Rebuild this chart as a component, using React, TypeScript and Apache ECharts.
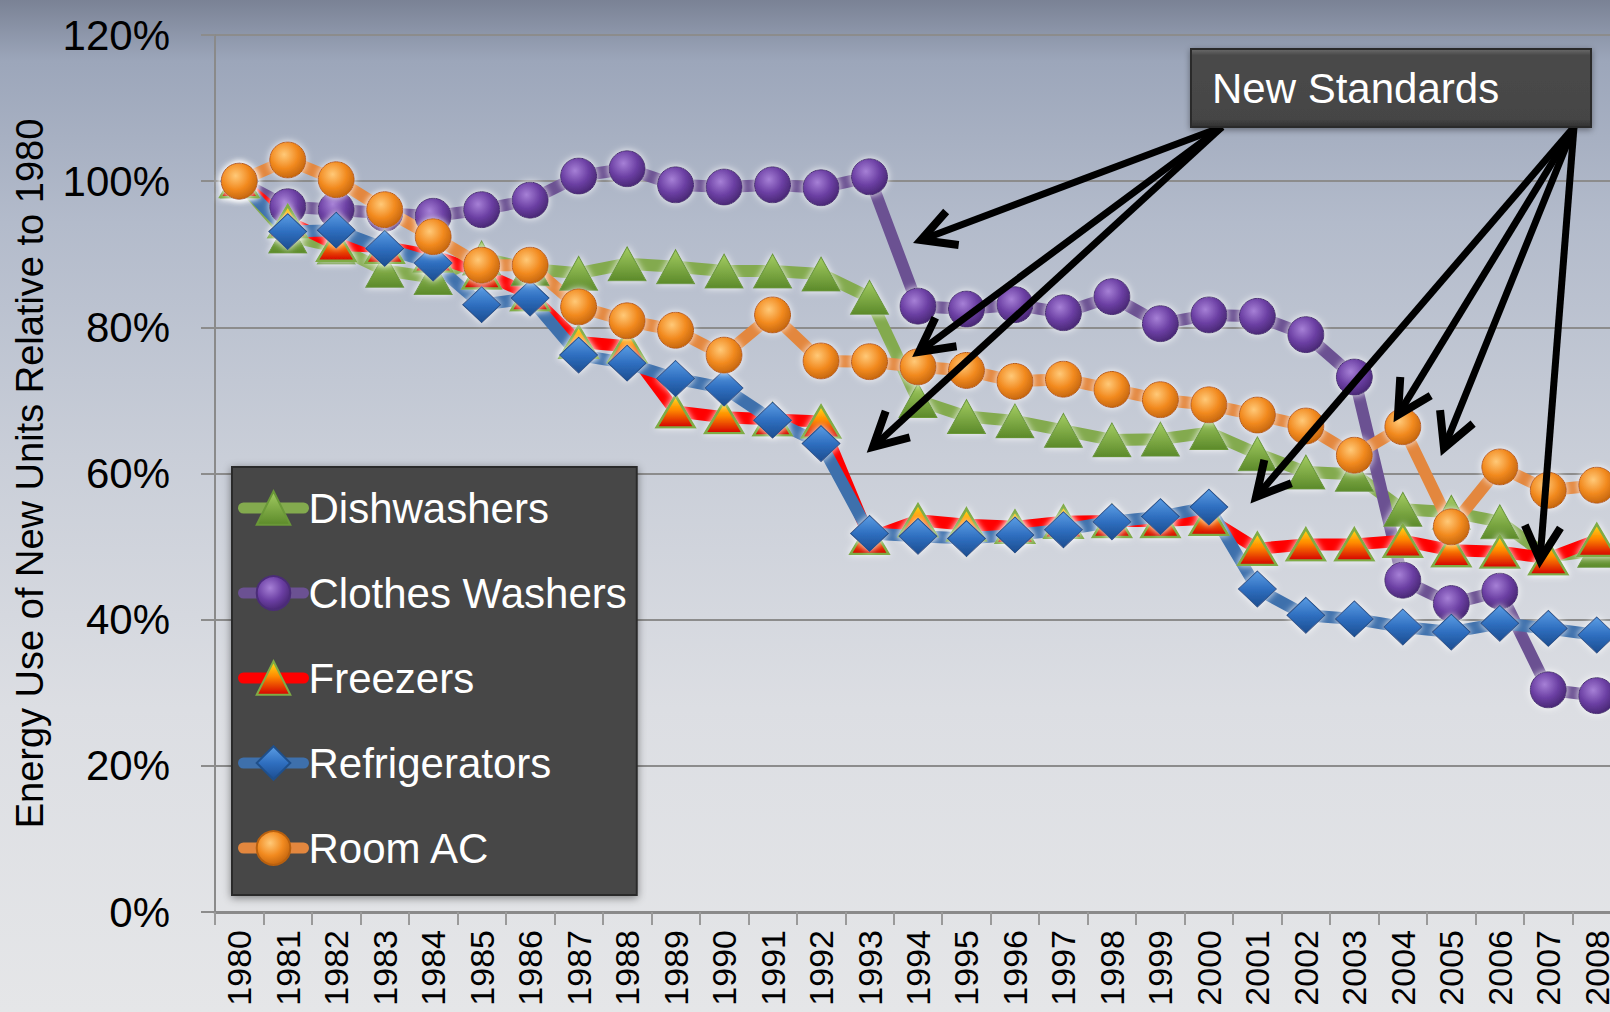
import React, { useEffect, useRef } from "react";
import * as echarts from "echarts";

const FONT = '"Liberation Sans", Arial, sans-serif';

const years = [
  "1980", "1981", "1982", "1983", "1984", "1985", "1986", "1987", "1988", "1989",
  "1990", "1991", "1992", "1993", "1994", "1995", "1996", "1997", "1998", "1999",
  "2000", "2001", "2002", "2003", "2004", "2005", "2006", "2007", "2008",
];

const dishwashers = [
  100, 92.5, 91, 87.8, 86.8, 89.5, 88, 87.4, 88.7, 88.3,
  87.7, 87.7, 87.3, 84.1, 70, 67.8, 67.2, 65.9, 64.6, 64.7,
  65.6, 62.7, 60.2, 59.9, 55.1, 54.7, 53.4, 48.6, 49.5,
];

const clothesWashers = [
  100, 96.5, 96.1, 95.6, 95.2, 96.1, 97.4, 100.7, 101.7, 99.5,
  99.2, 99.5, 99.1, 100.6, 82.9, 82.5, 83.1, 82.0, 84.2, 80.5,
  81.7, 81.5, 79.0, 73.2, 45.4, 42.2, 43.9, 30.4, 29.6,
];

const freezers = [
  100, 94.5, 91.3, 91, 89.8, 87.5, 84.5, 78, 77.4, 68.5,
  67.7, 67.4, 67.1, 51.2, 53.6, 53.0, 52.7, 53.4, 53.5, 53.5,
  53.8, 49.7, 50.3, 50.3, 50.8, 49.5, 49.3, 48.4, 50.9,
];

const refrigerators = [
  100, 93.1, 93.3, 90.8, 88.8, 83.1, 84.0, 76.2, 75.1, 73.0,
  71.7, 67.3, 64.1, 51.8, 51.4, 51.1, 51.6, 52.3, 53.4, 54.1,
  55.4, 44.2, 40.6, 40.1, 39.0, 38.3, 39.5, 38.8, 37.9,
];

const roomAC = [
  100, 102.9, 100.2, 96.1, 92.4, 88.5, 88.5, 82.8, 80.9, 79.6,
  76.2, 81.7, 75.4, 75.3, 74.6, 74.1, 72.6, 72.9, 71.5, 70.1,
  69.4, 68.0, 66.5, 62.5, 66.4, 52.7, 60.9, 57.7, 58.4,
];

const yTicks = { min: 0, max: 120, interval: 20 };

const seriesNames = ["Dishwashers", "Clothes Washers", "Freezers", "Refrigerators", "Room AC"];

function lin(stops: [number, string][]) {
  return {
    type: "linear",
    x: 0,
    y: 0,
    x2: 0,
    y2: 1,
    colorStops: stops.map(([offset, color]) => ({ offset, color })),
  };
}
function rad(stops: [number, string][]) {
  return {
    type: "radial",
    x: 0.4,
    y: 0.35,
    r: 0.7,
    colorStops: stops.map(([offset, color]) => ({ offset, color })),
  };
}

function arrow(x0: number, y0: number, x1: number, y1: number) {
  const dx = x0 - x1;
  const dy = y0 - y1;
  const len = Math.sqrt(dx * dx + dy * dy);
  const ux = dx / len;
  const uy = dy / len;
  const L = 38;
  const a = (28 * Math.PI) / 180;
  const r1x = ux * Math.cos(a) - uy * Math.sin(a);
  const r1y = ux * Math.sin(a) + uy * Math.cos(a);
  const r2x = ux * Math.cos(-a) - uy * Math.sin(-a);
  const r2y = ux * Math.sin(-a) + uy * Math.cos(-a);
  return [
    {
      type: "line",
      z: 100,
      shape: { x1: x0, y1: y0, x2: x1 + ux * 3, y2: y1 + uy * 3 },
      style: { stroke: "#000", lineWidth: 7 },
    },
    {
      type: "polyline",
      z: 100,
      shape: {
        points: [
          [x1 + r1x * L, y1 + r1y * L],
          [x1, y1],
          [x1 + r2x * L, y1 + r2y * L],
        ],
      },
      style: { stroke: "#000", lineWidth: 8, fill: null, lineJoin: "miter" },
    },
  ];
}

export default function App() {
  const ref = useRef<HTMLDivElement>(null);

  useEffect(() => {
    const chart = echarts.init(ref.current!, null, { renderer: "svg" });

    const glow = { shadowBlur: 7, shadowColor: "rgba(255,255,255,0.9)" };

    const mk = (
      name: string,
      data: number[],
      lineColor: string,
      symbol: string,
      symbolSize: number | number[],
      itemStyle: any
    ) => ({
      type: "line",
      name,
      data,
      symbol,
      symbolSize,
      showAllSymbol: true,
      silent: true,
      lineStyle: { color: lineColor, width: 12, cap: "round", join: "round" },
      itemStyle: { ...itemStyle, ...glow },
      emphasis: { disabled: true },
    });

    const option: any = {
      animation: false,
      backgroundColor: "transparent",
      grid: {
        left: 215,
        top: 35,
        right: -11,
        bottom: 100,
        containLabel: false,
        outerBoundsMode: "none",
      },
      legend: {
        orient: "vertical",
        left: 232,
        top: 467,
        data: seriesNames,
        backgroundColor: "#474747",
        borderColor: "#2c2c2c",
        borderWidth: 2,
        shadowBlur: 8,
        shadowColor: "rgba(0,0,0,0.45)",
        shadowOffsetY: 2,
        padding: [20, 10, 26, 6],
        itemWidth: 60,
        itemHeight: 42,
        itemGap: 43,
        selectedMode: false,
        lineStyle: { width: 11, cap: "round" },
        textStyle: {
          color: "#ffffff",
          fontFamily: FONT,
          fontSize: 42,
        },
      },
      xAxis: {
        type: "category",
        data: years,
        boundaryGap: true,
        axisLine: { show: true, lineStyle: { color: "#8a8a8a", width: 3 } },
        axisTick: { show: true, length: 13, lineStyle: { color: "#9a9a9a", width: 2 } },
        axisLabel: {
          interval: 0,
          rotate: 90,
          margin: 18,
          color: "#000",
          fontFamily: FONT,
          fontSize: 34,
          hideOverlap: false,
        },
        splitLine: { show: false },
      },
      yAxis: {
        type: "value",
        min: yTicks.min,
        max: yTicks.max,
        interval: yTicks.interval,
        name: "Energy Use of New Units Relative to 1980",
        nameLocation: "middle",
        nameGap: 166,
        nameTextStyle: { color: "#000", fontFamily: FONT, fontSize: 38 },
        axisLine: { show: true, lineStyle: { color: "#8a8a8a", width: 2 } },
        axisTick: { show: true, length: 14, lineStyle: { color: "#8c8c8c", width: 2 } },
        axisLabel: {
          formatter: "{value}%",
          margin: 45,
          color: "#000",
          fontFamily: FONT,
          fontSize: 42,
        },
        splitLine: { show: true, lineStyle: { color: "#8c8c8c", width: 2 } },
      },
      series: [
        mk("Dishwashers", dishwashers, "#83aa4e", "triangle", [38, 34], {
          color: lin([
            [0, "#a3cc62"],
            [1, "#5c8a2a"],
          ]),
          borderColor: "#6a9838",
          borderWidth: 1,
        }),
        mk("Clothes Washers", clothesWashers, "#6b5192", "circle", 36, {
          color: rad([
            [0, "#a680d6"],
            [0.55, "#6b3fa3"],
            [1, "#45256f"],
          ]),
          borderColor: "#4b2c78",
          borderWidth: 1,
        }),
        mk("Freezers", freezers, "#ff0000", "triangle", [38, 32], {
          color: lin([
            [0, "#ffe21a"],
            [0.45, "#ff8a00"],
            [1, "#d40000"],
          ]),
          borderColor: "#7fac45",
          borderWidth: 2.5,
        }),
        mk("Refrigerators", refrigerators, "#3e70ac", "diamond", [38, 36], {
          color: lin([
            [0, "#5b9de4"],
            [0.5, "#2f6fc0"],
            [1, "#1c4d90"],
          ]),
          borderColor: "#1f4f8a",
          borderWidth: 1,
        }),
        mk("Room AC", roomAC, "#e3873e", "circle", 36, {
          color: rad([
            [0, "#ffc978"],
            [0.55, "#f28a1f"],
            [1, "#c0620c"],
          ]),
          borderColor: "#b8600f",
          borderWidth: 1,
        }),
      ],
      graphic: [
        ...arrow(1222, 127, 921, 240),
        ...arrow(1222, 127, 919, 352),
        ...arrow(1222, 127, 873, 447),
        ...arrow(1574, 127, 1256, 497),
        ...arrow(1574, 127, 1398, 415),
        ...arrow(1574, 127, 1444, 448),
        ...arrow(1574, 127, 1540, 560),
        {
          type: "rect",
          z: 110,
          shape: { x: 1191, y: 49, width: 400, height: 78 },
          style: {
            fill: lin([
              [0, "#6a6a6a"],
              [0.08, "#4a4a4a"],
              [0.9, "#454545"],
              [1, "#303030"],
            ]),
            stroke: "#2a2a2a",
            lineWidth: 2,
            shadowBlur: 6,
            shadowColor: "rgba(0,0,0,0.4)",
            shadowOffsetY: 2,
          },
        },
        {
          type: "text",
          z: 111,
          x: 1212,
          y: 88,
          style: {
            text: "New Standards",
            fill: "#ffffff",
            font: `42px ${FONT}`,
            verticalAlign: "middle",
          },
        },
      ],
    };

    chart.setOption(option);
    return () => chart.dispose();
  }, []);

  return (
    <div
      style={{
        position: "fixed",
        left: 0,
        top: 0,
        width: 1610,
        height: 1012,
        overflow: "hidden",
        background:
          "linear-gradient(to bottom, #7a8295 0%, #9ca6ba 6%, #b3bbcb 22%, #c9ced8 45%, #dcdee3 70%, #e5e6e8 100%)",
      }}
    >
      <div ref={ref} style={{ width: 1610, height: 1012 }} />
    </div>
  );
}
